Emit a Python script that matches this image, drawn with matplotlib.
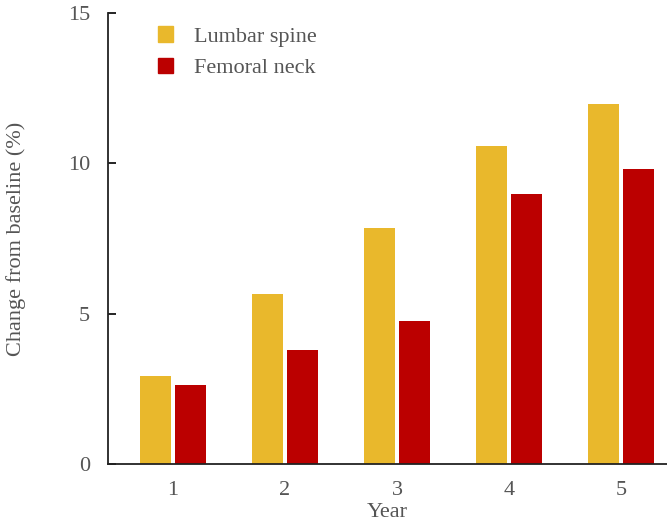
import matplotlib.pyplot as plt
import numpy as np
from matplotlib.patches import Patch

years = [1, 2, 3, 4, 5]
lumbar_spine = [2.95, 5.65, 7.85, 10.56, 11.96]
femoral_neck = [2.63, 3.79, 4.76, 8.99, 9.82]

plt.rcParams['font.family'] = ['Liberation Serif', 'DejaVu Serif']

fig = plt.figure(figsize=(6.67, 5.23), dpi=100)
ax = fig.add_axes([0.162, 0.112, 0.838, 0.864])

x = np.array(years, dtype=float)
w = 0.277
gap = 0.03
ax.bar(x - (w + gap) / 2, lumbar_spine, width=w, color='#E9B82C')
ax.bar(x + (w + gap) / 2, femoral_neck, width=w, color='#BB0000')

ax.set_xlim(0.42, 5.41)
ax.set_ylim(0, 15)
ax.set_xticks(years)
ax.set_yticks([0, 5, 10, 15])

for s in ['top', 'right']:
    ax.spines[s].set_visible(False)
for s in ['left', 'bottom']:
    ax.spines[s].set_linewidth(1.3)
    ax.spines[s].set_color('#222222')

ax.tick_params(axis='y', direction='in', length=6, width=1.2, labelsize=16,
               labelcolor='#555555', pad=13)
ax.tick_params(axis='x', length=0, labelsize=16, labelcolor='#555555', pad=12)

ax.set_ylabel('Change from baseline (%)', fontsize=16, color='#555555', labelpad=30)
ax.set_xlabel('Year', fontsize=16, color='#555555', labelpad=2)

handles = [Patch(color='#E9B82C', label='Lumbar spine'),
           Patch(color='#BB0000', label='Femoral neck')]
ax.legend(handles=handles, frameon=False, loc='upper left',
          bbox_to_anchor=(0.053, 1.014), fontsize=16, labelcolor='#555555',
          handlelength=0.7, handleheight=0.7, handletextpad=0.95,
          labelspacing=0.5)

fig.savefig('out.png', dpi=100)
